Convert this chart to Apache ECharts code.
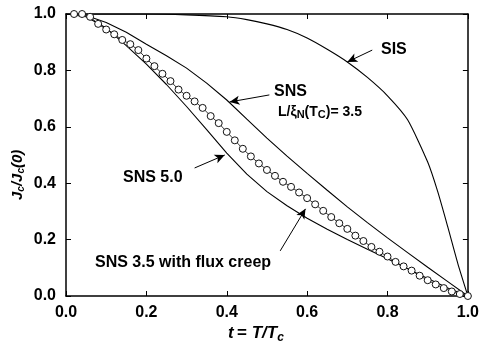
<!DOCTYPE html>
<html lang="en">
<head>
    <meta charset="UTF-8">
    <title>Jc vs T/Tc</title>
    <script src="https://cdn.jsdelivr.net/npm/echarts@6/dist/echarts.min.js"></script>
    <style>
        html, body { margin: 0; padding: 0; background: #fff; }
        #chart { width: 482px; height: 342px; }
    </style>
</head>
<body>
    <div id="chart"></div>
    <script type="text/javascript">
    // values
    var sisT = [0, 0.1, 0.2, 0.3, 0.4, 0.45, 0.5, 0.55, 0.6, 0.65, 0.7, 0.75, 0.8, 0.85, 0.9, 0.925, 0.95, 0.975, 1.0];
    var sisJ = [1, 1, 1, 0.997, 0.99, 0.98, 0.965, 0.945, 0.915, 0.875, 0.83, 0.775, 0.71, 0.625, 0.475, 0.37, 0.245, 0.115, 0];

    var snsT = [0, 0.05, 0.1, 0.15, 0.2, 0.25, 0.3, 0.35, 0.4, 0.45, 0.5, 0.55, 0.6, 0.65, 0.7, 0.75, 0.8, 0.85, 0.9, 0.95, 1.0];
    var sns35J = [1, 0.995, 0.97, 0.935, 0.893, 0.852, 0.808, 0.755, 0.695, 0.627, 0.56, 0.496, 0.435, 0.375, 0.316, 0.26, 0.206, 0.154, 0.102, 0.051, 0];
    var sns50J = [1, 0.99, 0.95, 0.888, 0.822, 0.75, 0.672, 0.59, 0.507, 0.432, 0.37, 0.32, 0.276, 0.237, 0.2, 0.166, 0.132, 0.097, 0.062, 0.028, 0];

    var creepT = [0.02, 0.04, 0.06, 0.08, 0.10, 0.12, 0.14, 0.16, 0.18, 0.20, 0.22, 0.24, 0.26, 0.28, 0.30, 0.32, 0.34, 0.36, 0.38, 0.40,
                  0.42, 0.44, 0.46, 0.48, 0.50, 0.52, 0.54, 0.56, 0.58, 0.60, 0.62, 0.64, 0.66, 0.68, 0.70, 0.72, 0.74, 0.76, 0.78, 0.80,
                  0.82, 0.84, 0.86, 0.88, 0.90, 0.92, 0.94, 0.96, 0.98, 1.00];
    var creepJ = [1.0, 1.0, 0.99, 0.965, 0.945, 0.928, 0.908, 0.893, 0.872, 0.842, 0.815, 0.788, 0.762, 0.732, 0.71, 0.69, 0.667, 0.638, 0.613, 0.582,
                  0.552, 0.522, 0.495, 0.47, 0.447, 0.426, 0.405, 0.387, 0.367, 0.347, 0.325, 0.302, 0.28, 0.258, 0.238, 0.214, 0.195, 0.174, 0.157, 0.14,
                  0.121, 0.105, 0.09, 0.072, 0.056, 0.041, 0.028, 0.016, 0.007, 0];

    // annotation arrows [from, to] in data units
    var arrows = [
        [[0.762, 0.872], [0.700, 0.830]],
        [[0.506, 0.713], [0.407, 0.688]],
        [[0.320, 0.454], [0.395, 0.500]],
        [[0.533, 0.160], [0.596, 0.309]]
    ];

    function pairs(t, j) {
        var out = [];
        for (var i = 0; i < t.length; i++) out.push([t[i], j[i]]);
        return out;
    }

    var font = 'Liberation Sans, Arial, Helvetica, sans-serif';
    var chart = echarts.init(document.getElementById('chart'), null, { renderer: 'canvas' });

    var axisCommon = {
        min: 0, max: 1, interval: 0.2,
        axisLine: { show: true, onZero: false, lineStyle: { color: '#000', width: 1.5 } },
        axisTick: { show: true, inside: true, length: 5, lineStyle: { color: '#000', width: 1 } },
        splitLine: { show: false }
    };

    var tickLabel = {
        color: '#000', fontFamily: font, fontSize: 16, fontWeight: 'bold',
        formatter: function(v) { return v.toFixed(1); }
    };

    var lineSeries = function(name, data) {
        return {
            name: name, type: 'line', data: data,
            showSymbol: false, symbol: 'none', smooth: false,
            lineStyle: { color: '#000', width: 1.1 },
            z: 2
        };
    };

    chart.setOption({
        animation: false,
        backgroundColor: '#fff',
        grid: { left: 66, right: 13, top: 14, bottom: 46 },
        xAxis: [
            Object.assign({}, axisCommon, { type: 'value', position: 'bottom',
                axisLabel: Object.assign({}, tickLabel, { margin: 9 }) }),
            Object.assign({}, axisCommon, { type: 'value', position: 'top',
                axisLabel: { show: false } })
        ],
        yAxis: [
            Object.assign({}, axisCommon, { type: 'value', position: 'left',
                axisLabel: Object.assign({}, tickLabel, { margin: 10 }) }),
            Object.assign({}, axisCommon, { type: 'value', position: 'right',
                axisLabel: { show: false } })
        ],
        series: [
            Object.assign(lineSeries('SIS', pairs(sisT, sisJ)), {
                smooth: 0.2,
                markLine: {
                    silent: true,
                    symbol: ['none', 'arrow'],
                    symbolSize: [7, 10],
                    label: { show: false },
                    lineStyle: { color: '#000', width: 1, type: 'solid' },
                    data: arrows.map(function(a) {
                        return [{ coord: a[0] }, { coord: a[1] }];
                    })
                }
            }),
            lineSeries('SNS 3.5', pairs(snsT, sns35J)),
            lineSeries('SNS 5.0', pairs(snsT, sns50J)),
            {
                name: 'SNS 3.5 with flux creep', type: 'line', data: pairs(creepT, creepJ),
                symbol: 'circle', symbolSize: 7,
                itemStyle: { color: '#fff', borderColor: '#111', borderWidth: 1 },
                lineStyle: { color: '#000', width: 0.8 },
                z: 3
            }
        ],
        graphic: [
            { type: 'text', left: 381, top: 42, style: { text: 'SIS', font: 'bold 16px ' + font, fill: '#000' } },
            { type: 'text', left: 274, top: 84, style: { text: 'SNS', font: 'bold 16px ' + font, fill: '#000' } },
            { type: 'text', left: 278, top: 105, style: {
                text: '{a|L/ξ}{s|N}{a|(T}{s|C}{a|)= 3.5}',
                fill: '#000',
                rich: {
                    a: { fontFamily: font, fontSize: 14, fontWeight: 'bold', fill: '#000', verticalAlign: 'bottom' },
                    s: { fontFamily: font, fontSize: 11, fontWeight: 'bold', fill: '#000', verticalAlign: 'bottom', padding: [0, 0, -1, 0] }
                }
            } },
            { type: 'text', left: 123, top: 170, style: { text: 'SNS 5.0', font: 'bold 16px ' + font, fill: '#000' } },
            { type: 'text', left: 95, top: 255, style: { text: 'SNS 3.5 with flux creep', font: 'bold 16px ' + font, fill: '#000' } },
            { type: 'text', left: 228, top: 325, style: {
                text: '{i|t} {b|= }{i|T/T}{s|c}',
                rich: {
                    i: { fontFamily: font, fontSize: 17, fontWeight: 'bold', fontStyle: 'italic', fill: '#000' },
                    b: { fontFamily: font, fontSize: 17, fontWeight: 'bold', fill: '#000' },
                    s: { fontFamily: font, fontSize: 12, fontWeight: 'bold', fontStyle: 'italic', fill: '#000', padding: [8, 0, 0, 0] }
                }
            } },
            { type: 'text', x: 9, y: 200, rotation: Math.PI / 2, style: {
                text: '{i|J}{s|c}{i|/J}{s|c}{i|(0)}',
                rich: {
                    i: { fontFamily: font, fontSize: 15, fontWeight: 'bold', fontStyle: 'italic', fill: '#000' },
                    s: { fontFamily: font, fontSize: 10, fontWeight: 'bold', fontStyle: 'italic', fill: '#000', padding: [7, 0, 0, 0] }
                }
            } }
        ]
    });
    </script>
</body>
</html>
